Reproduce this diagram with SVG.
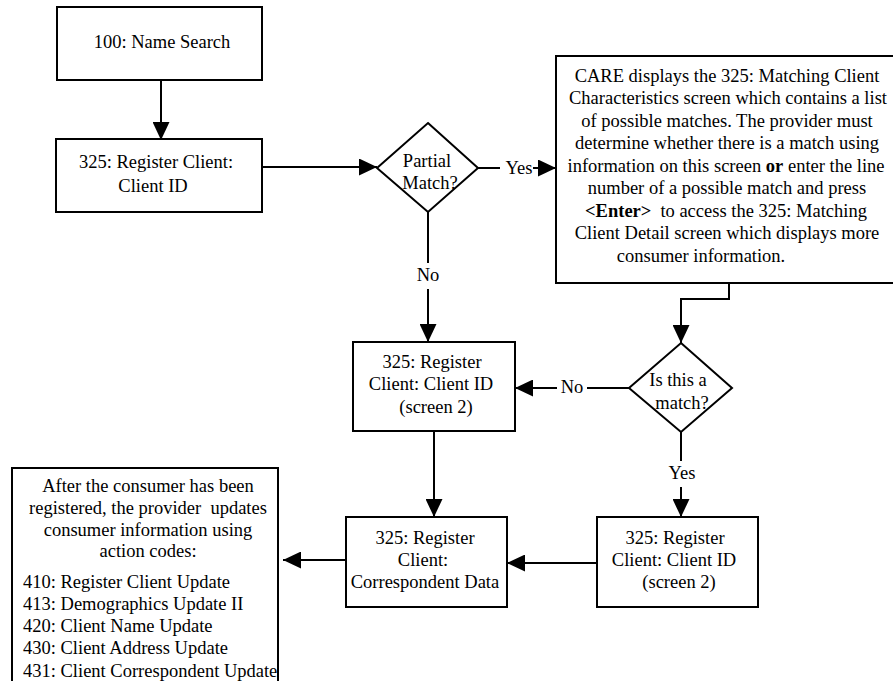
<svg xmlns="http://www.w3.org/2000/svg" width="893" height="681" viewBox="0 0 893 681">
  <style>
    .box { fill: #fff; stroke: #000; stroke-width: 2; }
    .wire { fill: none; stroke: #000; stroke-width: 2; }
    text { font-family: "Liberation Serif", "Times New Roman", serif; font-size: 18.5px; fill: #000; }
    .c { text-anchor: middle; }
    .b { font-weight: bold; }
  </style>
  <defs>
    <marker id="arrow" markerUnits="userSpaceOnUse" markerWidth="18" markerHeight="17" refX="18" refY="8.5" orient="auto">
      <path d="M0,0 L18,8.5 L0,17 Z" fill="#000"/>
    </marker>
  </defs>
  <rect width="893" height="681" fill="#fff"/>

  <!-- connectors -->
  <g id="connectors">
    <path class="wire" d="M161,80 V140" marker-end="url(#arrow)"/>
    <path class="wire" d="M262,167 H377" marker-end="url(#arrow)"/>
    <path class="wire" d="M478,168 H500"/>
    <path class="wire" d="M533,168 H556" marker-end="url(#arrow)"/>
    <path class="wire" d="M428,212 V263"/>
    <path class="wire" d="M428,289 V342" marker-end="url(#arrow)"/>
    <path class="wire" d="M729,283 V299 H681 V343" marker-end="url(#arrow)"/>
    <path class="wire" d="M629,388 H587"/>
    <path class="wire" d="M557,388 H515" marker-end="url(#arrow)"/>
    <path class="wire" d="M681,432 V461"/>
    <path class="wire" d="M681,487 V517" marker-end="url(#arrow)"/>
    <path class="wire" d="M434,431 V517" marker-end="url(#arrow)"/>
    <path class="wire" d="M597,563 H507" marker-end="url(#arrow)"/>
    <path class="wire" d="M346,560 H283" marker-end="url(#arrow)"/>
    <text class="c" x="519" y="174">Yes</text>
    <text class="c" x="428" y="281">No</text>
    <text class="c" x="572" y="393">No</text>
    <text class="c" x="682" y="479">Yes</text>
  </g>

  <g id="name-search">
    <rect class="box" x="57" y="7" width="205" height="73"/>
    <text class="c" x="162" y="48">100: Name Search</text>
  </g>

  <g id="register-client">
    <rect class="box" x="56" y="139" width="206" height="73"/>
    <text class="c" x="156" y="168">325: Register Client:</text>
    <text class="c" x="153" y="192">Client ID</text>
  </g>

  <g id="partial-match">
    <polygon class="box" points="428,123 478,168 428,212 377,168"/>
    <text class="c" x="427" y="167">Partial</text>
    <text class="c" x="430" y="189">Match?</text>
  </g>

  <g id="matching-client">
    <rect class="box" x="556" y="56" width="350" height="227"/>
    <text class="c" x="727" y="82">CARE displays the 325: Matching Client</text>
    <text class="c" x="728" y="104">Characteristics screen which contains a list</text>
    <text class="c" x="727" y="127">of possible matches. The provider must</text>
    <text class="c" x="727" y="149">determine whether there is a match using</text>
    <text class="c" x="726" y="172">information on this screen <tspan class="b">or</tspan> enter the line</text>
    <text class="c" x="727" y="194">number of a possible match and press</text>
    <text class="c" x="726" y="217"><tspan class="b">&lt;Enter&gt;</tspan><tspan dx="9">to access the 325: Matching</tspan></text>
    <text class="c" x="727" y="239">Client Detail screen which displays more</text>
    <text class="c" x="701" y="262">consumer information.</text>
  </g>

  <g id="is-match">
    <polygon class="box" points="681,343 732,388 681,432 629,388"/>
    <text class="c" x="678" y="386">Is this a</text>
    <text class="c" x="682" y="409">match?</text>
  </g>

  <g id="register-screen2-left">
    <rect class="box" x="353" y="342" width="162" height="89"/>
    <text class="c" x="432" y="368">325: Register</text>
    <text class="c" x="431" y="390">Client: Client ID</text>
    <text class="c" x="436" y="413">(screen 2)</text>
  </g>

  <g id="correspondent-data">
    <rect class="box" x="346" y="517" width="161" height="90"/>
    <text class="c" x="425" y="544">325: Register</text>
    <text class="c" x="423" y="566">Client:</text>
    <text class="c" x="425" y="588">Correspondent Data</text>
  </g>

  <g id="register-screen2-right">
    <rect class="box" x="597" y="517" width="161" height="90"/>
    <text class="c" x="675" y="544">325: Register</text>
    <text class="c" x="674" y="566">Client: Client ID</text>
    <text class="c" x="679" y="588">(screen 2)</text>
  </g>

  <g id="action-codes">
    <rect class="box" x="12" y="468" width="266" height="222"/>
    <text class="c" x="148" y="492">After the consumer has been</text>
    <text class="c" x="148" y="514" xml:space="preserve">registered, the provider  updates</text>
    <text class="c" x="148" y="536">consumer information using</text>
    <text class="c" x="148" y="557">action codes:</text>
    <text x="23" y="588">410: Register Client Update</text>
    <text x="23" y="610">413: Demographics Update II</text>
    <text x="23" y="632">420: Client Name Update</text>
    <text x="23" y="654">430: Client Address Update</text>
    <text x="23" y="677">431: Client Correspondent Update</text>
  </g>
</svg>
